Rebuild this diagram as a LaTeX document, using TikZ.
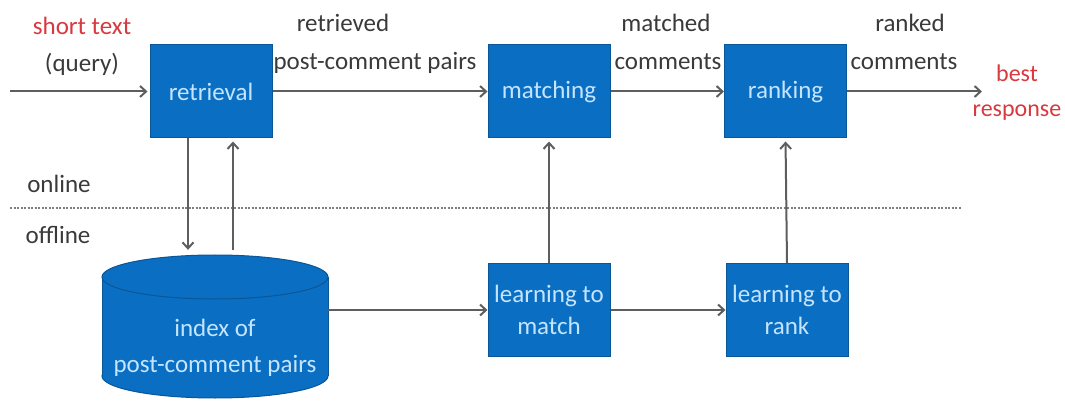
\documentclass[tikz,border=0pt]{standalone}
\usepackage{fontspec}
\setmainfont{Carlito}
\usetikzlibrary{arrows.meta}
\definecolor{boxblue}{HTML}{0A6FC2}
\definecolor{boxedge}{HTML}{0B5696}
\definecolor{boxtext}{HTML}{C4E4FF}
\definecolor{labelgray}{HTML}{3A3A3A}
\definecolor{linegray}{HTML}{5E5E5E}
\definecolor{hotred}{HTML}{D8383F}

\begin{document}
\begin{tikzpicture}[x=1pt,y=-1pt,
    font=\fontsize{25}{36}\selectfont,
    proc/.style={rectangle,fill=boxblue,draw=boxedge,line width=1pt,text=boxtext,
      font=\fontsize{25}{32}\selectfont,
      align=center,minimum width=122pt,minimum height=93pt,inner sep=0pt},
    lbl/.style={text=labelgray,inner sep=0pt,anchor=base},
    arr/.style={draw=linegray,line width=2pt,-{Straight Barb[length=6pt,width=11pt]}}]
    \useasboundingbox (0,0) rectangle (1065,403);

    % online part
    \node[proc] (retr) at (211,91.5) {retrieval};
    \node[proc] (match) at (549,91.5) {matching};
    \node[proc] (rank) at (785.5,91.5) {ranking};
    \coordinate (inq) at (10,91.5);
    \coordinate (outr) at (982,91.5);

    % offline part
    \node[proc] (ltm) at (549,310) {learning to\\match};
    \node[proc] (ltr) at (787,310) {learning to\\rank};
    \node[minimum width=226pt,minimum height=148pt,inner sep=0pt] (idx) at (215,324) {};
    \fill[boxblue] (215,376) ellipse[x radius=113,y radius=22];
    \draw[boxedge,line width=1pt] (215,376) ellipse[x radius=113,y radius=22];
    \fill[boxblue] (102,277) rectangle (328,376);
    \draw[boxedge,line width=1pt] (102,277) -- (102,376) (328,277) -- (328,376);
    \draw[boxedge,line width=1pt,fill=boxblue] (215,277) ellipse[x radius=113,y radius=22];
    \node[text=boxtext,align=center,inner sep=0pt] (idxlabel) at (215,348)
      {index of\\post-comment pairs};

    % separator
    \draw[linegray!80,line width=2.2pt,dash pattern=on 2pt off 1.5pt] (10,208) -- (962,208);
    \node[lbl] (online) at (59,193) {online};
    \node[lbl] (offline) at (58,244) {offline};

    % labels
    \node[lbl,text=hotred] (short) at (82,35) {short text};
    \node[lbl] (query) at (82,72) {(query)};
    \node[lbl] (retrd) at (343,32) {retrieved};
    \node[lbl] (pcp) at (375,70) {post-comment pairs};
    \node[lbl] (matchd) at (666,32) {matched};
    \node[lbl] (mcom) at (668,70) {comments};
    \node[lbl] (rankd) at (910,32) {ranked};
    \node[lbl] (rcom) at (904,70) {comments};
    \node[text=hotred,align=center,inner sep=0pt,font=\fontsize{24}{35}\selectfont]
      (best) at (1017,93) {best\\response};

    % connectors
    \draw[arr,shorten >=2pt] (inq) -- (retr.west);
    \draw[arr] (retr.east) -- (match.west);
    \draw[arr] (match.east) -- (rank.west);
    \draw[arr] (rank.east) -- (outr);
    \draw[arr] ([xshift=-23pt]retr.south) -- ([xshift=-27pt]idx.north);
    \draw[arr,shorten >=3pt] ([xshift=18pt]idx.north) -- ([xshift=22pt]retr.south);
    \draw[arr] (idx.east |- ltm.west) -- (ltm.west);
    \draw[arr] (ltm.east) -- (ltr.west);
    \draw[arr,shorten >=3pt] (ltm.north) -- (match.south);
    \draw[arr,shorten >=3pt] (ltr.north) -- (rank.south);
\end{tikzpicture}
\end{document}
